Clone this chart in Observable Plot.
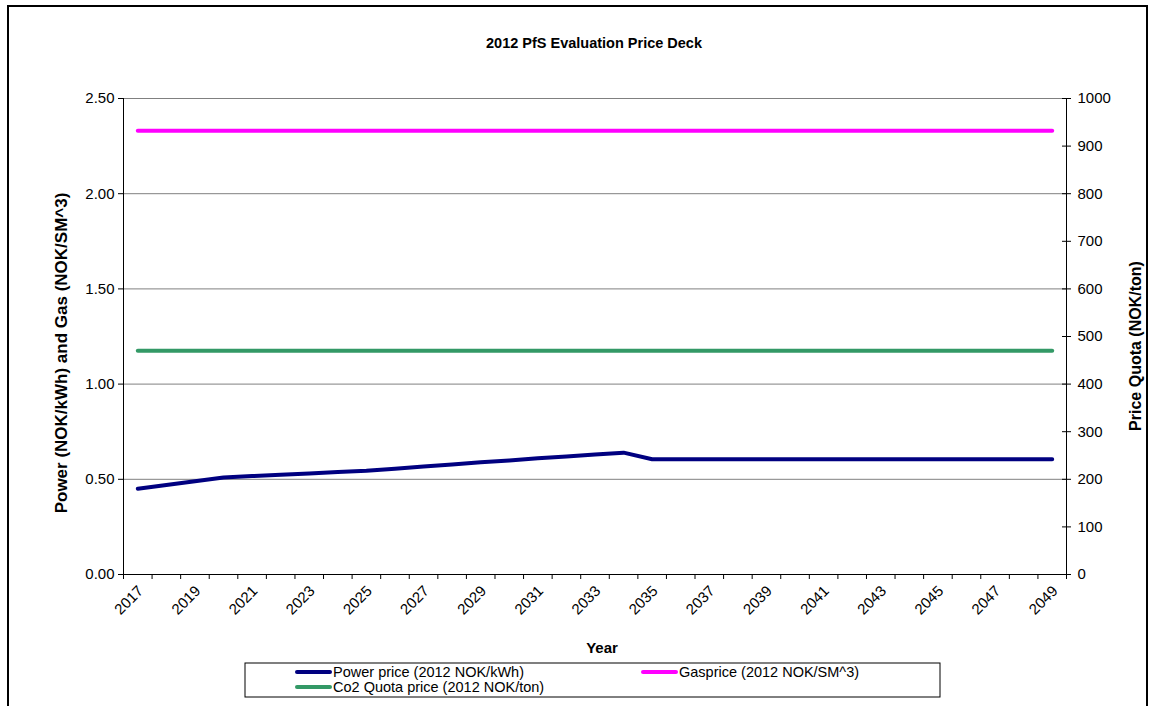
<!DOCTYPE html>
<html>
<head>
<meta charset="utf-8">
<script src="https://cdn.jsdelivr.net/npm/d3@7"></script>
<script src="https://cdn.jsdelivr.net/npm/@observablehq/plot@0.6"></script>
<style>
  html, body { margin: 0; padding: 0; background: #fff; }
  #chart { width: 1154px; height: 706px; overflow: hidden; }
</style>
</head>
<body>
<div id="chart"></div>
<script>
// Evaluation price deck, 2012 real NOK
const years = [2017, 2018, 2019, 2020, 2021, 2022, 2023, 2024, 2025, 2026, 2027,
  2028, 2029, 2030, 2031, 2032, 2033, 2034, 2035, 2036, 2037, 2038, 2039, 2040,
  2041, 2042, 2043, 2044, 2045, 2046, 2047, 2048, 2049];

// Power price (NOK/kWh)
const powerPrice = [0.45, 0.47, 0.49, 0.51, 0.517, 0.524, 0.531, 0.538, 0.545,
  0.556, 0.567, 0.578, 0.589, 0.599, 0.61, 0.62, 0.63, 0.64, 0.605, 0.605, 0.605,
  0.605, 0.605, 0.605, 0.605, 0.605, 0.605, 0.605, 0.605, 0.605, 0.605, 0.605, 0.605];

// Gas price (NOK/Sm^3)
const gasPrice = [2.33, 2.33, 2.33, 2.33, 2.33, 2.33, 2.33, 2.33, 2.33, 2.33, 2.33,
  2.33, 2.33, 2.33, 2.33, 2.33, 2.33, 2.33, 2.33, 2.33, 2.33, 2.33, 2.33, 2.33,
  2.33, 2.33, 2.33, 2.33, 2.33, 2.33, 2.33, 2.33, 2.33];

// CO2 quota price (NOK/ton), right axis
const co2Price = [470, 470, 470, 470, 470, 470, 470, 470, 470, 470, 470, 470, 470,
  470, 470, 470, 470, 470, 470, 470, 470, 470, 470, 470, 470, 470, 470, 470, 470,
  470, 470, 470, 470];

const leftTicks = [0, 0.5, 1, 1.5, 2, 2.5];
const rightTicks = [0, 100, 200, 300, 400, 500, 600, 700, 800, 900, 1000];
const yearLabels = [2017, 2019, 2021, 2023, 2025, 2027, 2029, 2031, 2033, 2035,
  2037, 2039, 2041, 2043, 2045, 2047, 2049];

// right axis maps 0..1000 NOK/ton onto the left 0..2.5 range
const quotaScale = 1000 / 2.5;

const series = [
  {name: "Power price (2012 NOK/kWh)", color: "#000080"},
  {name: "Gasprice (2012 NOK/SM^3)", color: "#ff00ff"},
  {name: "Co2 Quota price (2012 NOK/ton)", color: "#339966"}
];

const data = years.map((year, i) => ({
  year, power: powerPrice[i], gas: gasPrice[i], co2: co2Price[i]
}));

// category boundaries sit halfway between years
const boundaries = [years[0] - 0.5, ...years.map(y => y + 0.5)];
const xMin = boundaries[0], xMax = boundaries[boundaries.length - 1];

const font = "'Liberation Sans', Arial, sans-serif";
const tickFont = 15;

const plot = Plot.plot({
  width: 1154,
  height: 706,
  marginLeft: 123,
  marginRight: 88,
  marginTop: 98,
  marginBottom: 132,
  style: {fontFamily: font, fontSize: "15px", background: "white", color: "black"},
  x: {domain: [xMin, xMax]},
  y: {domain: [0, 2.5]},
  marks: [
    Plot.ruleY(leftTicks.filter(d => d > 0), {stroke: "#808080", strokeWidth: 1}),
    Plot.axisY({ticks: leftTicks, tickFormat: d3.format(".2f"), tickSize: 5,
      tickPadding: 4, label: null, fontSize: tickFont}),
    Plot.axisY({anchor: "right", ticks: rightTicks.map(v => v / quotaScale),
      tickFormat: d => String(Math.round(d * quotaScale)), tickSize: 4,
      tickPadding: 7, label: null, fontSize: tickFont}),
    Plot.ruleY(rightTicks, {y: v => v / quotaScale, x1: xMax, x2: xMax,
      insetLeft: -4, stroke: "black"}),
    Plot.axisX({ticks: boundaries, tickFormat: () => "", tickSize: 5, label: null}),
    Plot.text(yearLabels, {x: d => d, y: 0, text: d => String(d), rotate: -45,
      textAnchor: "end", dx: 3, dy: 14, fontSize: tickFont}),
    Plot.ruleX([xMin, xMax], {y1: 0, y2: 2.5, stroke: "black"}),
    Plot.ruleY([0], {stroke: "black"}),
    Plot.line(data, {x: "year", y: "power", stroke: series[0].color, strokeWidth: 4,
      strokeLinecap: "round"}),
    Plot.line(data, {x: "year", y: "gas", stroke: series[1].color, strokeWidth: 4,
      strokeLinecap: "round"}),
    Plot.line(data, {x: "year", y: d => d.co2 / quotaScale, stroke: series[2].color,
      strokeWidth: 4, strokeLinecap: "round"})
  ]
});

document.getElementById("chart").appendChild(plot);

// titles, outer frame and legend
const svg = d3.select(plot);
svg.append("rect").attr("x", 8).attr("y", 6).attr("width", 1139).attr("height", 740)
  .attr("fill", "none").attr("stroke", "black").attr("stroke-width", 2);

svg.append("text").attr("x", 594).attr("y", 48).attr("text-anchor", "middle")
  .attr("font-weight", "bold").attr("font-size", 14.5).attr("font-family", font)
  .text("2012 PfS Evaluation Price Deck");

svg.append("text").attr("transform", "translate(67,353) rotate(-90)")
  .attr("text-anchor", "middle").attr("font-weight", "bold").attr("font-size", 17)
  .attr("font-family", font).text("Power (NOK/kWh) and Gas (NOK/SM^3)");

svg.append("text").attr("transform", "translate(1141,346) rotate(-90)")
  .attr("text-anchor", "middle").attr("font-weight", "bold").attr("font-size", 16)
  .attr("font-family", font).text("Price Quota (NOK/ton)");

svg.append("text").attr("x", 602).attr("y", 653).attr("text-anchor", "middle")
  .attr("font-weight", "bold").attr("font-size", 15).attr("font-family", font)
  .text("Year");

const legend = svg.append("g").attr("font-family", font).attr("font-size", 14.5)
  .attr("text-anchor", "start");
legend.append("rect").attr("x", 245).attr("y", 663).attr("width", 695).attr("height", 34)
  .attr("fill", "white").attr("stroke", "black").attr("stroke-width", 1);
const slots = [{x: 297, y: 672}, {x: 643, y: 672}, {x: 297, y: 687}];
series.forEach((s, i) => {
  const {x, y} = slots[i];
  legend.append("line").attr("x1", x).attr("x2", x + 33).attr("y1", y).attr("y2", y)
    .attr("stroke", s.color).attr("stroke-width", 4).attr("stroke-linecap", "round");
  legend.append("text").attr("x", x + 36).attr("y", y).attr("dy", "0.35em")
    .attr("text-anchor", "start").text(s.name);
});
</script>
</body>
</html>
